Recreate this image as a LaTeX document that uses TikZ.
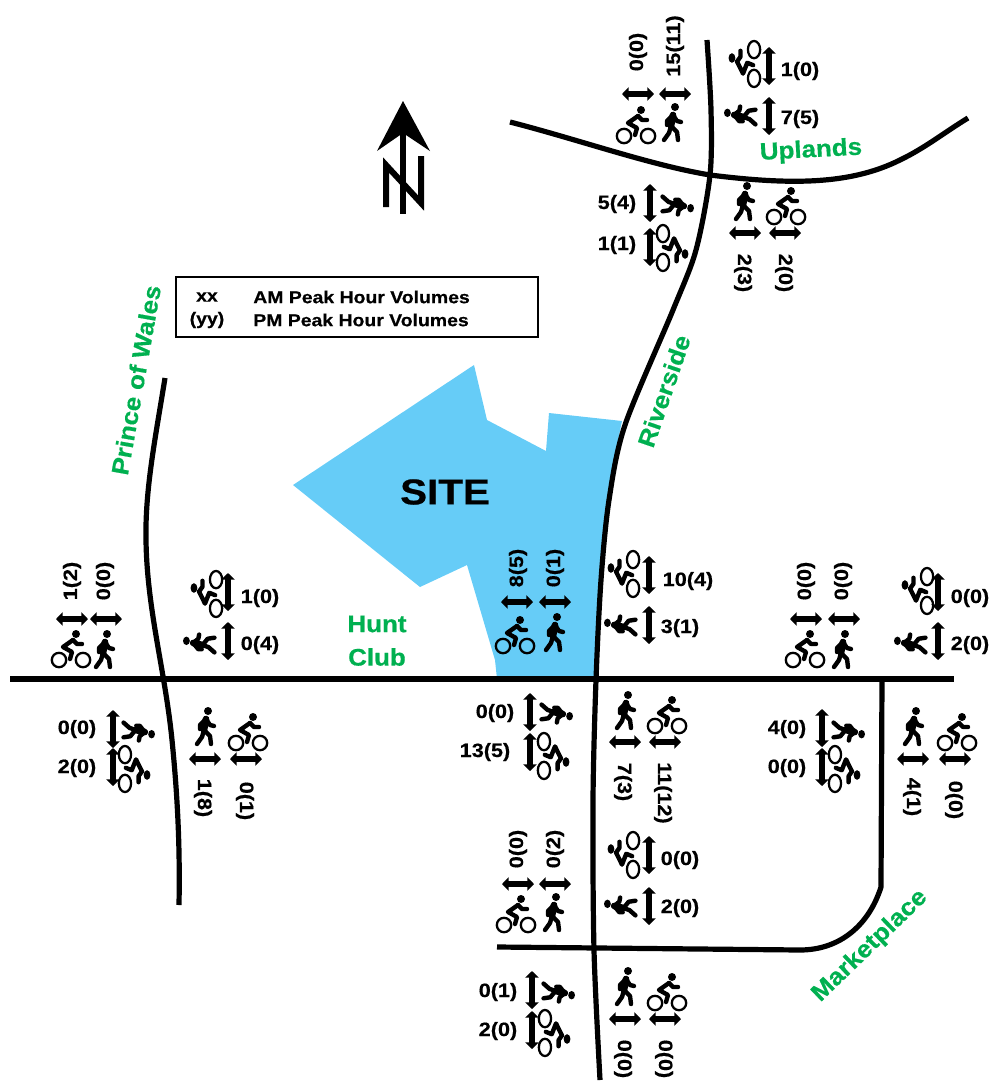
\documentclass[tikz,border=0pt]{standalone}
\usepackage{fontspec}
\setmainfont{Liberation Sans}
\newfontfamily\heavyfont[BoldFeatures={FakeBold=0.5}]{Liberation Sans}
\usetikzlibrary{arrows.meta}
\definecolor{siteblue}{HTML}{66CCF7}
\definecolor{roadgreen}{HTML}{00B050}
\tikzset{
  x=0.75pt,y=-0.75pt,
  road/.style={line width=3.9pt,black,line join=round},
  volarrow/.style={line width=3.9pt,{Triangle[length=5pt,width=10pt]}-{Triangle[length=5pt,width=10pt]}},
  vol/.style={xscale=1.12,font=\heavyfont\bfseries\fontsize{14.5pt}{15pt}\selectfont,inner sep=0pt,text=black},
  legendtxt/.style={xscale=1.12,font=\heavyfont\bfseries\fontsize{13pt}{14pt}\selectfont,inner sep=0pt},
  streetname/.style={xscale=1.08,font=\heavyfont\bfseries\fontsize{18pt}{19pt}\selectfont,text=roadgreen,inner sep=0pt},
  limb/.style={line width=3.3pt,line cap=round,line join=round},
  ped/.pic={
    \fill (3,-16) circle [radius=4];
    \draw[limb,line width=5pt] (1,-8) -- (-1,3);
    \draw[limb] (1,-8) -- (-5,-2) -- (-5,2);
    \draw[limb] (1,-8) -- (5,-2) -- (9,-1);
    \draw[limb] (-1,3) -- (-3,10) -- (-8,17);
    \draw[limb] (-1,3) -- (5,9) -- (6,17);
  },
  cyc/.pic={
    \fill (5,-13) circle [radius=4];
    \draw[line width=1.7pt] (-12,13) circle [radius=7.2] (12,13) circle [radius=7.2];
    \draw[limb] (2,-7) -- (-8,0) -- (1,5) -- (-1,12);
    \draw[limb] (2,-7) -- (6,-3) -- (11,-3);
  },
  pedside/.style={xscale=1.05,yscale=.85},
  cycside/.style={xscale=1.2,yscale=.85},
}
\newcount\volc
\newcommand{\volUp}[5]{\global\advance\volc by 1
  \coordinate (a\the\volc) at ({#1-16},#2); \coordinate (b\the\volc) at ({#1+16},#2);
  \draw[volarrow] (a\the\volc) -- (b\the\volc);
  \node[rotate=90,vol] (t\the\volc) at (#3,#4) {#5};}
\newcommand{\volDown}[5]{\global\advance\volc by 1
  \coordinate (a\the\volc) at ({#1-16},#2); \coordinate (b\the\volc) at ({#1+16},#2);
  \draw[volarrow] (a\the\volc) -- (b\the\volc);
  \node[rotate=-90,vol] (t\the\volc) at (#3,#4) {#5};}
\newcommand{\volSide}[5]{\global\advance\volc by 1
  \coordinate (a\the\volc) at (#1,{#2-19}); \coordinate (b\the\volc) at (#1,{#2+19});
  \draw[volarrow] (a\the\volc) -- (b\the\volc);
  \node[vol] (t\the\volc) at (#3,#4) {#5};}
\newcommand{\pedU}[2]{\pic at (#1,#2) {ped};}
\newcommand{\cycU}[2]{\pic at (#1,#2) {cyc};}
\newcommand{\pedL}[2]{\pic[rotate=90,pedside] at (#1,#2) {ped};}
\newcommand{\pedR}[2]{\pic[rotate=-90,pedside] at (#1,#2) {ped};}
\newcommand{\cycL}[2]{\pic[rotate=90,cycside] at (#1,#2) {cyc};}
\newcommand{\cycR}[2]{\pic[rotate=-90,cycside] at (#1,#2) {cyc};}
\begin{document}
\begin{tikzpicture}
\useasboundingbox (0,0) rectangle (991,1082);
% site
\fill[siteblue] (474,365) -- (487,420) -- (546,451) -- (549,413) -- (622,421) -- (612,470) -- (600,590) -- (595,679) -- (497,679) -- (495,660) -- (467,565) -- (420,587) -- (293,485) -- cycle;
\node[font=\heavyfont\bfseries\fontsize{27pt}{28pt}\selectfont,xscale=1.12,inner sep=0pt] (site) at (445,492) {SITE};
% roads
\draw[road] plot[smooth,tension=.5] coordinates {(707,40) (711,110) (710,175) (696,250) (673,310) (625,425) (609,500) (601,580) (596,680) (593,800) (594,950) (600,1080)};
\draw[road] (10,679) -- (954,679);
\draw[road] (510,122) .. controls (580,140) and (650,165) .. (710,175) .. controls (790,185) and (850,185) .. (900,160) .. controls (925,148) and (945,132) .. (968,118);
\draw[road] (165,378) .. controls (155,440) and (145,490) .. (146,540) .. controls (147,610) and (165,670) .. (172,740) .. controls (178,800) and (180,850) .. (179,905);
\draw[road] (882,679) -- (881,887) .. controls (869,925) and (840,950) .. (800,950) -- (497,947);
% north arrow
\draw[line width=4.2pt] (403,130) -- (403,214);
\fill (403,101) -- (430,151) -- (403,133) -- (377,151) -- cycle;
\draw[line width=4.5pt] (386,207) -- (386,165) -- (421,203) -- (421,156);
% legend
\node[draw=black,line width=0.9pt,minimum width=271.5pt,minimum height=45pt,inner sep=0pt] (legend) at (357,307) {};
\node[legendtxt] (xx) at (207,297) {xx};
\node[legendtxt] (yy) at (207,320) {(yy)};
\node[legendtxt,anchor=west] (am) at (253,297) {AM Peak Hour Volumes};
\node[legendtxt,anchor=west] (pm) at (253,320) {PM Peak Hour Volumes};
% street names
\node[rotate=3,streetname] (uplands) at (811,151) {Uplands};
\node[rotate=80,streetname] (pow) at (136,380) {Prince of Wales};
\node[rotate=71,streetname] (riverside) at (664,391) {Riverside};
\node[streetname] (hunt) at (377,624) {Hunt};
\node[streetname] (club) at (377,657) {Club};
\node[rotate=44,streetname] (market) at (870,946) {Marketplace};
% Uplands / Riverside
\volUp{638}{94}{638}{52}{0(0)} \cycU{636}{123}
\volUp{675}{94}{675}{46}{15(11)} \pedU{672}{123}
\cycL{743}{64} \volSide{769}{66}{800}{71}{1(0)}
\pedL{741}{116} \volSide{769}{116}{800}{119}{7(5)}
\volSide{650}{203}{617}{204}{5(4)} \pedR{677}{205}
\volSide{650}{247}{617}{245}{1(1)} \cycR{674}{248}
\pedU{744}{202} \volDown{745}{233}{743}{273}{2(3)}
\cycU{786}{204} \volDown{785}{233}{784}{273}{2(0)}
% Prince of Wales
\volUp{72}{619}{72}{581}{1(2)} \cycU{71}{647}
\volUp{106}{619}{105}{581}{0(0)} \pedU{104}{650}
\cycL{205}{594} \volSide{228}{592}{260}{598}{1(0)}
\pedL{200}{644} \volSide{228}{641}{260}{645}{0(4)}
\volSide{113}{729}{77}{729}{0(0)} \pedR{138}{731}
\volSide{113}{767}{77}{768}{2(0)} \cycR{136}{769}
\pedU{205}{727} \volDown{205}{759}{203}{798}{1(8)}
\cycU{248}{730} \volDown{246}{759}{245}{801}{0(1)}
% Hunt Club / Riverside
\volUp{517}{602}{518}{568}{8(5)} \cycU{515}{633}
\volUp{555}{602}{555}{568}{0(1)} \pedU{554}{633}
\cycL{622}{574} \volSide{649}{575}{688}{581}{10(4)}
\pedL{621}{626} \volSide{649}{625}{680}{628}{3(1)}
\volSide{530}{712}{495}{713}{0(0)} \pedR{556}{713}
\volSide{530}{752}{485}{752}{13(5)} \cycR{555}{756}
\pedU{625}{711} \volDown{625}{742}{623}{782}{7(3)}
\cycU{667}{713} \volDown{665}{742}{663}{793}{11(12)}
% Hunt Club east
\volUp{806}{619}{806}{581}{0(0)} \cycU{805}{647}
\volUp{844}{619}{843}{581}{0(0)} \pedU{842}{650}
\cycL{916}{591} \volSide{938}{592}{970}{598}{0(0)}
\pedL{911}{644} \volSide{938}{641}{970}{645}{2(0)}
\volSide{822}{728}{787}{729}{4(0)} \pedR{848}{731}
\volSide{822}{767}{787}{768}{0(0)} \cycR{846}{769}
\pedU{913}{727} \volDown{913}{759}{912}{797}{4(1)}
\cycU{957}{730} \volDown{955}{759}{954}{800}{0(0)}
% Marketplace / Riverside
\volUp{518}{884}{518}{849}{0(0)} \cycU{516}{912}
\volUp{555}{884}{555}{849}{0(2)} \pedU{553}{913}
\cycL{622}{855} \volSide{649}{855}{680}{860}{0(0)}
\pedL{621}{907} \volSide{649}{906}{680}{908}{2(0)}
\volSide{532}{990}{498}{992}{0(1)} \pedR{558}{992}
\volSide{532}{1030}{498}{1031}{2(0)} \cycR{556}{1033}
\pedU{625}{987} \volDown{625}{1019}{623}{1059}{0(0)}
\cycU{667}{990} \volDown{665}{1019}{664}{1059}{0(0)}
\end{tikzpicture}
\end{document}
